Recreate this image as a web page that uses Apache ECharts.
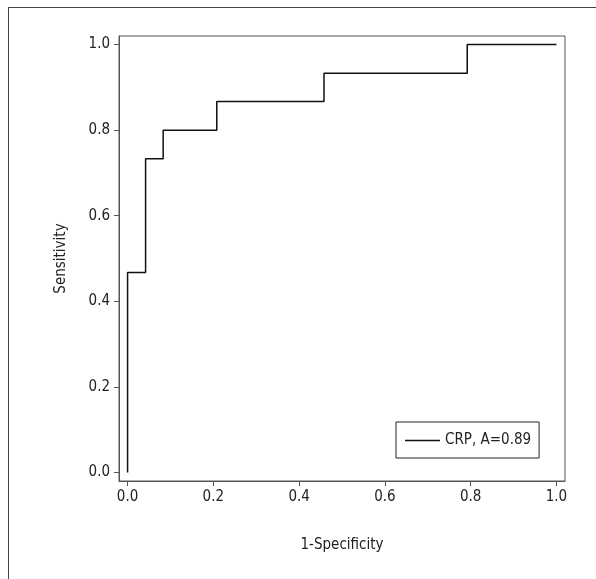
<!DOCTYPE html>
<html>
<head>
<meta charset="utf-8">
<script src="https://cdn.jsdelivr.net/npm/echarts@6/dist/echarts.min.js"></script>
<style>
  html, body { margin: 0; padding: 0; background: #fff; }
  #roc { width: 596px; height: 579px; }
</style>
</head>
<body>
<div id="roc"></div>
<script>
// ROC step curve for CRP (1-specificity, sensitivity)
var fpr = [0, 0, 0.042, 0.042, 0.083, 0.083, 0.208, 0.208, 0.458, 0.458, 0.792, 0.792, 1.0];
var tpr = [0, 0.467, 0.467, 0.733, 0.733, 0.8, 0.8, 0.867, 0.867, 0.933, 0.933, 1.0, 1.0];
var tickValues = [0, 0.2, 0.4, 0.6, 0.8, 1.0];
var seriesName = "CRP, A=0.89";

var font = "'Liberation Sans Narrow', 'DejaVu Sans Condensed', sans-serif";
var myChart = echarts.init(document.getElementById("roc"));

var points = fpr.map(function (x, i) { return [x, tpr[i]]; });

function axis(name, gap) {
  return {
    type: "value",
    min: -0.02,
    max: 1.02,
    name: name,
    nameLocation: "middle",
    nameGap: gap,
    nameTextStyle: { fontFamily: font, fontSize: 15, color: "#222" },
    axisLine: { show: true, onZero: false, lineStyle: { color: "#555", width: 1 } },
    axisTick: { show: true, length: 5, customValues: tickValues, lineStyle: { color: "#555" } },
    axisLabel: {
      customValues: tickValues,
      fontFamily: font, fontSize: 15, color: "#222", margin: 9,
      formatter: function (v) { return v.toFixed(1); }
    },
    splitLine: { show: false }
  };
}

myChart.setOption({
  animation: false,
  grid: {
    left: 119, top: 36, right: 31, bottom: 98,
    show: true, borderColor: "#555", borderWidth: 1
  },
  xAxis: axis("1-Specificity", 57),
  yAxis: axis("Sensitivity", 50),
  legend: {
    data: [{ name: seriesName, icon: "rect" }],
    left: 396, top: 422,
    orient: "vertical",
    borderColor: "#222", borderWidth: 1,
    padding: [11, 8, 10, 9],
    itemWidth: 35, itemHeight: 1.3, itemGap: 8,
    textStyle: { fontFamily: font, fontSize: 15, color: "#222" }
  },
  series: [
    {
      name: seriesName,
      type: "line",
      data: points,
      symbol: "none",
      lineStyle: { color: "#111", width: 1.5 },
      itemStyle: { color: "#111" }
    }
  ],
  graphic: [
    { type: "line", shape: { x1: 8, y1: 7.5, x2: 596, y2: 7.5 }, style: { stroke: "#444", lineWidth: 1 } },
    { type: "line", shape: { x1: 8.5, y1: 7, x2: 8.5, y2: 579 }, style: { stroke: "#444", lineWidth: 1 } }
  ]
});
</script>
</body>
</html>
